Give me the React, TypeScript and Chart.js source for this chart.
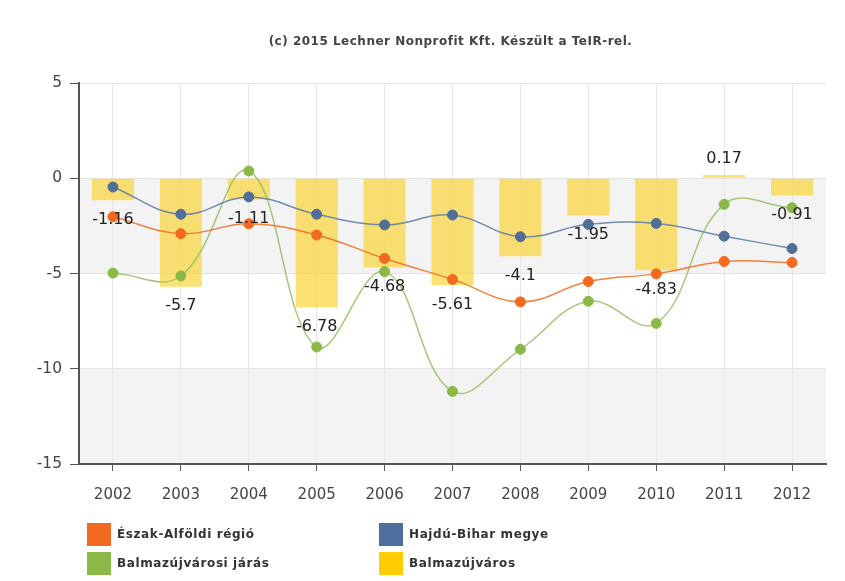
import { useEffect, useRef } from 'react';
import { Chart, registerables } from 'chart.js';

Chart.register(...registerables);

const years = ['2002', '2003', '2004', '2005', '2006', '2007', '2008', '2009', '2010', '2011', '2012'];
const eszakAlfoldiRegio = [-2.02, -2.91, -2.39, -2.98, -4.21, -5.31, -6.49, -5.42, -5.02, -4.37, -4.42];
const hajduBiharMegye = [-0.46, -1.89, -0.98, -1.89, -2.45, -1.93, -3.07, -2.42, -2.37, -3.04, -3.69];
const balmazujvarosiJaras = [-4.98, -5.13, 0.38, -8.86, -4.9, -11.19, -8.98, -6.46, -7.62, -1.37, -1.55];
const balmazujvaros = [-1.16, -5.7, -1.11, -6.78, -4.68, -5.61, -4.1, -1.95, -4.83, 0.17, -0.91];
const seriesNames = ['Észak-Alföldi régió', 'Hajdú-Bihar megye', 'Balmazújvárosi járás', 'Balmazújváros'];
const yTicks = [5, 0, -5, -10, -15];
const shadedBands = [[0, -5], [-10, -15]];
const credit = '(c) 2015 Lechner Nonprofit Kft. Készült a TeIR-rel.';

const FONT = '"DejaVu Sans", Verdana, sans-serif';
const C_ORANGE = '#f26a1f';
const C_BLUE = '#4f6e98';
const C_GREEN = '#8cb847';
const C_YELLOW = '#ffcc00';

export default function App() {
  const ref = useRef<HTMLCanvasElement>(null);

  useEffect(() => {
    if (!ref.current) return;

    const bandsPlugin = {
      id: 'bands',
      beforeDraw(chart: any) {
        const { ctx, chartArea: a, scales } = chart;
        const y = scales.y;
        ctx.save();
        ctx.fillStyle = '#f3f3f3';
        for (const [t, b] of shadedBands) {
          const y1 = y.getPixelForValue(t);
          const y2 = y.getPixelForValue(b);
          ctx.fillRect(a.left, y1, a.right - a.left, y2 - y1);
        }
        ctx.restore();
      },
    };

    const labelsPlugin = {
      id: 'barLabels',
      afterDatasetsDraw(chart: any) {
        const { ctx } = chart;
        const idx = chart.data.datasets.findIndex((d: any) => d.type === 'bar');
        const meta = chart.getDatasetMeta(idx);
        ctx.save();
        ctx.font = `16px ${FONT}`;
        ctx.fillStyle = '#222';
        ctx.textAlign = 'center';
        ctx.textBaseline = 'middle';
        meta.data.forEach((el: any, i: number) => {
          const v = balmazujvaros[i];
          const y = v < 0 ? el.y + 19.5 : el.y - 16;
          ctx.fillText(String(v), el.x, y);
        });
        ctx.restore();
      },
    };

    const decorPlugin = {
      id: 'decor',
      afterDraw(chart: any) {
        const { ctx } = chart;
        ctx.save();
        // credit line
        ctx.font = `bold 12px ${FONT}`;
        (ctx as any).letterSpacing = '0.5px';
        ctx.fillStyle = '#444';
        ctx.textAlign = 'center';
        ctx.textBaseline = 'middle';
        ctx.fillText(credit, 450.5, 42);
        // legend
        const colors = [C_ORANGE, '#4e6e9e', C_GREEN, C_YELLOW];
        const colX = [87, 379];
        const rowY = [523, 552];
        ctx.font = `bold 12px ${FONT}`;
        (ctx as any).letterSpacing = '0.6px';
        ctx.textAlign = 'left';
        seriesNames.forEach((name, i) => {
          const cx = colX[i % 2];
          const ry = rowY[Math.floor(i / 2)];
          ctx.fillStyle = colors[i];
          ctx.fillRect(cx, ry, 24, 23);
          ctx.fillStyle = '#333';
          ctx.fillText(name, cx + 30, ry + 12);
        });
        ctx.restore();
      },
    };

    const chart = new Chart(ref.current, {
      type: 'bar',
      data: {
        labels: years,
        datasets: [
          {
            type: 'line',
            label: seriesNames[0],
            data: eszakAlfoldiRegio,
            borderColor: 'rgba(242,106,31,0.85)',
            backgroundColor: C_ORANGE,
            pointBackgroundColor: C_ORANGE,
            pointBorderColor: C_ORANGE,
            pointRadius: 5,
            pointBorderWidth: 1,
            borderWidth: 1.5,
            tension: 0.4,
            order: 1,
          },
          {
            type: 'line',
            label: seriesNames[1],
            data: hajduBiharMegye,
            borderColor: 'rgba(92,122,165,0.85)',
            backgroundColor: C_BLUE,
            pointBackgroundColor: C_BLUE,
            pointBorderColor: C_BLUE,
            pointRadius: 5,
            pointBorderWidth: 1,
            borderWidth: 1.5,
            tension: 0.4,
            order: 2,
          },
          {
            type: 'line',
            label: seriesNames[2],
            data: balmazujvarosiJaras,
            borderColor: 'rgba(150,190,100,0.85)',
            backgroundColor: C_GREEN,
            pointBackgroundColor: C_GREEN,
            pointBorderColor: C_GREEN,
            pointRadius: 5,
            pointBorderWidth: 1,
            borderWidth: 1.5,
            tension: 0.4,
            order: 3,
          },
          {
            type: 'bar',
            label: seriesNames[3],
            data: balmazujvaros,
            backgroundColor: 'rgba(250,212,50,0.68)',
            borderWidth: 0,
            barPercentage: 0.62,
            categoryPercentage: 1,
            order: 4,
          },
        ],
      } as any,
      options: {
        responsive: false,
        animation: false,
        layout: { padding: { top: 83, right: 19, left: 0, bottom: 0 } },
        plugins: {
          legend: { display: false },
          tooltip: { enabled: false },
          title: { display: false },
        },
        scales: {
          x: {
            grid: { offset: false, color: '#e6e6e6', tickColor: '#555', tickLength: 7 },
            border: { color: '#555', width: 2 },
            ticks: { font: { family: FONT, size: 15 }, color: '#444', padding: 15, maxRotation: 0 },
            afterFit(s: any) { s.height = 117; },
          },
          y: {
            min: -15,
            max: 5,
            afterBuildTicks(s: any) { s.ticks = yTicks.map((v) => ({ value: v })); },
            ticks: { font: { family: FONT, size: 15.5 }, color: '#444', padding: 8 },
            grid: { color: '#e4e4e4', tickColor: '#555', tickLength: 9 },
            border: { color: '#555', width: 2 },
            afterFit(s: any) { s.width = 79; },
          },
        },
      } as any,
      plugins: [bandsPlugin, labelsPlugin, decorPlugin],
    });

    return () => chart.destroy();
  }, []);

  return (
    <div style={{ position: 'absolute', left: 0, top: 0, width: 845, height: 581, background: '#fff' }}>
      <canvas ref={ref} width={845} height={581} style={{ display: 'block' }} />
    </div>
  );
}
